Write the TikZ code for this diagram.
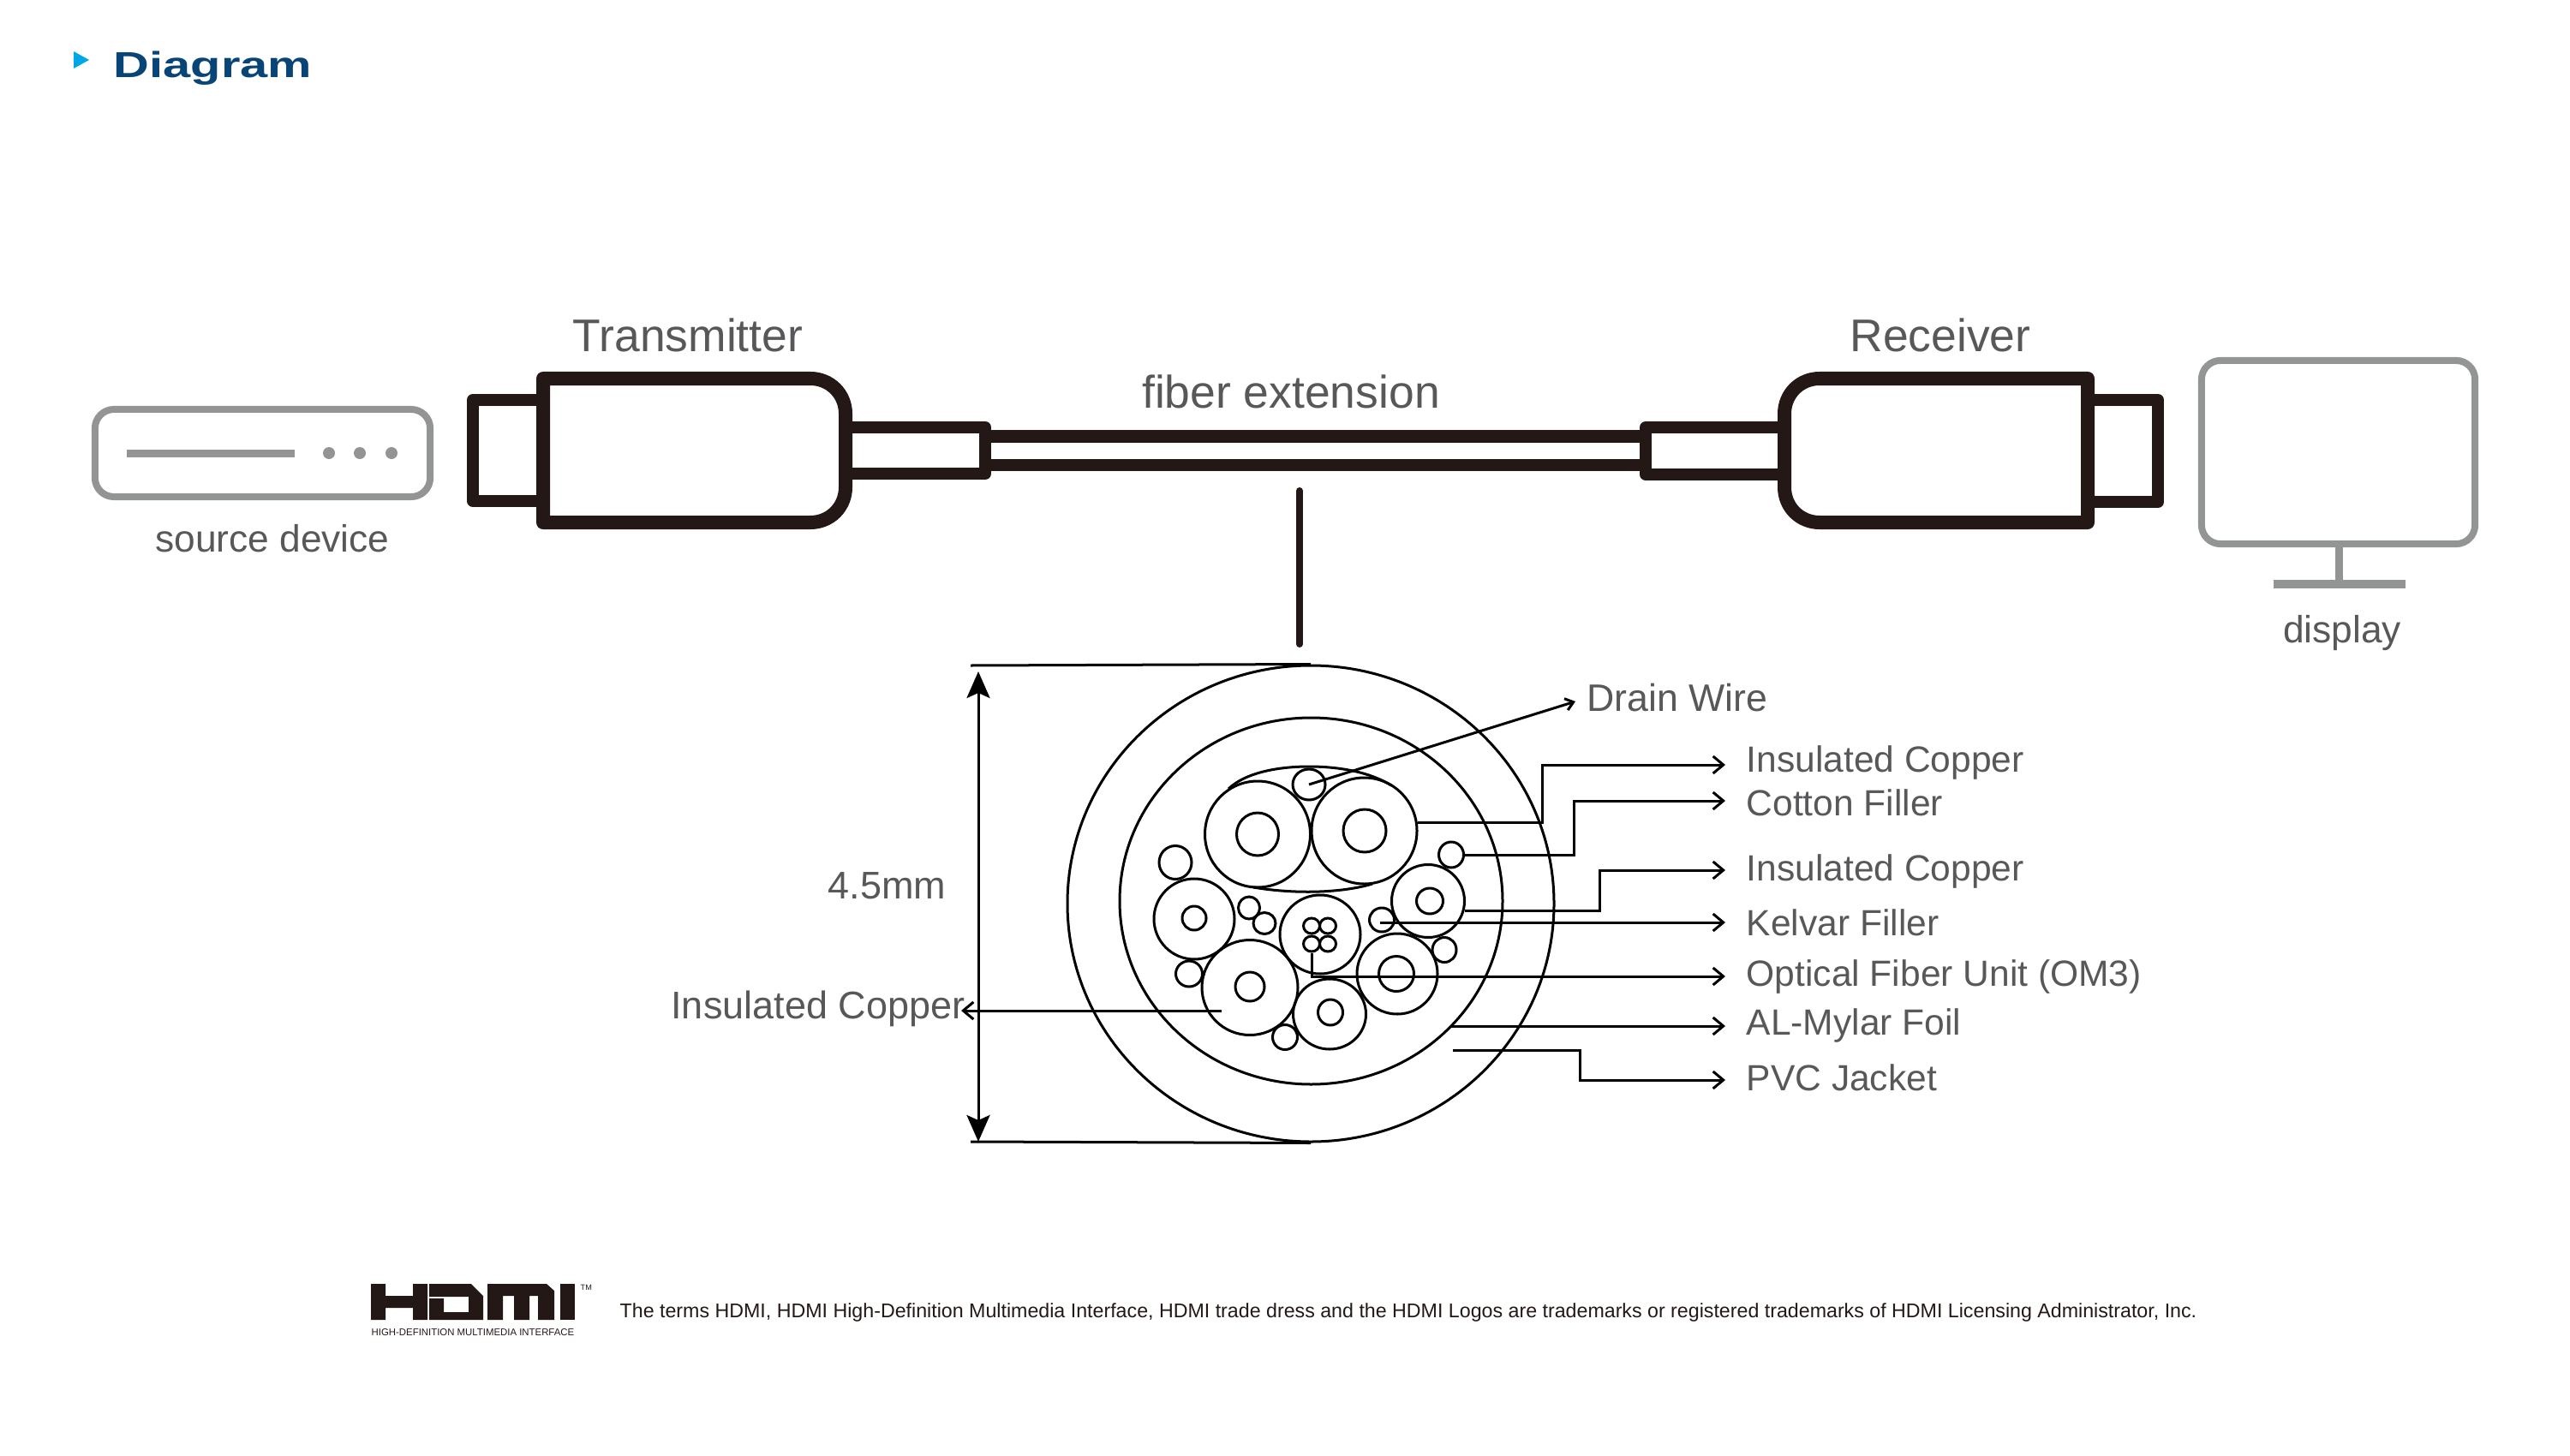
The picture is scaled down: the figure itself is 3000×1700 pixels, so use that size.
\documentclass[tikz,border=0pt]{standalone}
\usepackage{fontspec}
\setmainfont{Liberation Sans}
\usetikzlibrary{arrows.meta,positioning,shapes.geometric}
\definecolor{plugblack}{RGB}{35,24,21}
\definecolor{devgray}{RGB}{147,149,148}
\definecolor{labgray}{RGB}{88,88,90}
\definecolor{titleblue}{RGB}{9,68,118}
\definecolor{markblue}{RGB}{0,167,232}
\begin{document}
\begin{tikzpicture}[x=0.01cm,y=-0.01cm,
  heavy/.style={draw=plugblack,line width=0.16cm,line join=round},
  thinplug/.style={draw=plugblack,line width=0.14cm,line join=round},
  device/.style={draw=devgray,line width=0.08cm,rounded corners=0.22cm},
  ring/.style 2 args={draw,ellipse,line width=0.03cm,inner sep=0pt,minimum width=#1*0.01cm,minimum height=#2*0.01cm},
  leader/.style={line width=0.03cm,-{Straight Barb[length=0.12cm,width=0.2cm]}},
  wire/.style={line width=0.03cm},
  bigtext/.style={font=\fontsize{15.2}{18}\selectfont,text=labgray,inner sep=0pt,anchor=base},
  midtext/.style={font=\fontsize{12.6}{15}\selectfont,text=labgray,inner sep=0pt},
  callout/.style={font=\fontsize{12.1}{14}\selectfont,text=labgray,inner ysep=0pt,inner xsep=0.24cm,anchor=base west}]
\useasboundingbox (0,0) rectangle (3000,1700);

\fill[markblue] (86,60) -- (104,70) -- (86,80) -- cycle;
\node[font=\fontsize{12}{14}\selectfont\bfseries,text=titleblue,inner sep=0pt,anchor=base west,xscale=1.37,transform shape] (title) at (132,91) {Diagram};

\node[device,minimum width=3.91cm,minimum height=1.02cm] (src) at (306.5,529) {};
\fill[devgray] (148,525) rectangle (344,534);
\foreach \dotx in {384,420,457} \fill[devgray] (\dotx,529) circle (7);
\node[midtext,anchor=base] (srclab) at (318,644) {source device};

\draw[heavy] (634,442) -- (946,442) .. controls (969,442) and (987,460) .. (987,483) -- (987,569) .. controls (987,592) and (969,610) .. (946,610) -- (634,610) -- cycle;
\draw[thinplug] (634,467) -- (552,467) -- (552,585) -- (634,585);
\draw[thinplug] (987,499) -- (1150,499) -- (1150,553) -- (987,553);
\draw[thinplug] (1150,509.5) -- (1921,509.5);
\draw[thinplug] (1150,543) -- (1921,543);
\draw[heavy] (2437,442) -- (2124,442) .. controls (2101,442) and (2083,460) .. (2083,483) -- (2083,569) .. controls (2083,592) and (2101,610) .. (2124,610) -- (2437,610) -- cycle;
\draw[thinplug] (2437,467) -- (2519,467) -- (2519,586) -- (2437,586);
\draw[thinplug] (2083,499) -- (1921,499) -- (1921,554) -- (2083,554);
\node[bigtext] (txlab) at (803,410) {Transmitter};
\node[bigtext] (rxlab) at (2265,410) {Receiver};
\node[bigtext] (fiblab) at (1507,476) {fiber extension};

\node[device,minimum width=3.19cm,minimum height=2.14cm] (disp) at (2729.5,528) {};
\fill[devgray] (2726,639) rectangle (2735,677);
\fill[devgray] (2654,677) rectangle (2808,687);
\node[midtext,anchor=base] (displab) at (2734,750) {display};

\coordinate (linka) at (1517,573);
\coordinate (linkb) at (1517,752);
\draw[draw=plugblack,line width=0.08cm,line cap=round] (linka) -- (linkb);

\node[ring={568}{556}] (jacket) at (1530,1055) {};
\node[ring={447}{428}] (foil) at (1530.5,1052) {};
\node[ring={123}{124}] (bigl) at (1468,974) {};
\node[ring={49}{50}] (bigli) at (1468,974) {};
\node[ring={123}{124}] (bigr) at (1592.5,970) {};
\node[ring={50}{50}] (bigri) at (1593,970) {};
\node[ring={38}{36}] (drain) at (1528,916) {};
\draw[wire] (1434,921) .. controls (1455,901) and (1495,895) .. (1528,895) .. controls (1565,895) and (1600,902) .. (1624,917);
\draw[wire] (1463,1036) .. controls (1510,1044) and (1565,1043) .. (1602,1032);
\node[ring={38}{39}] (fila) at (1372,1007) {};
\node[ring={94}{94}] (copa) at (1394,1073) {};
\node[ring={28}{28}] (copai) at (1394,1072) {};
\node[ring={25}{26}] (filb) at (1458,1060) {};
\node[ring={26}{25}] (filc) at (1476,1078) {};
\node[ring={94}{92}] (fibunit) at (1541,1091) {};
\node[ring={19}{18}] (fiba) at (1531,1081) {};
\node[ring={19}{18}] (fibb) at (1550,1081) {};
\node[ring={19}{18}] (fibc) at (1531,1102) {};
\node[ring={19}{18}] (fibd) at (1550,1102) {};
\node[ring={29}{28}] (kevlar) at (1613,1074) {};
\node[ring={85}{85}] (copb) at (1667,1052) {};
\node[ring={31}{30}] (copbi) at (1669,1052) {};
\node[ring={29}{30}] (cotton) at (1694,998) {};
\node[ring={28}{29}] (fild) at (1686,1109) {};
\node[ring={94}{94}] (copc) at (1631,1137) {};
\node[ring={41}{41}] (copci) at (1630,1137) {};
\node[ring={85}{82}] (copd) at (1552,1184) {};
\node[ring={29}{30}] (copdi) at (1553,1182) {};
\node[ring={29}{29}] (file) at (1500,1211) {};
\node[ring={112}{111}] (cope) at (1459,1153) {};
\node[ring={34}{34}] (copei) at (1459,1152) {};
\node[ring={31}{30}] (filf) at (1388,1137) {};

\node[callout,font=\fontsize{12.7}{15}\selectfont,inner xsep=0.13cm] (ldrain) at (1839,830) {Drain Wire};
\node[callout] (lcopa) at (2014,901) {Insulated Copper};
\node[callout] (lcot) at (2014,952) {Cotton Filler};
\node[callout] (lcopb) at (2014,1028) {Insulated Copper};
\node[callout] (lkev) at (2014,1092) {Kelvar Filler};
\node[callout] (lopt) at (2014,1151) {Optical Fiber Unit (OM3)};
\node[callout] (lfoil) at (2014,1208) {AL-Mylar Foil};
\node[callout] (ljac) at (2014,1273) {PVC Jacket};
\node[midtext,font=\fontsize{12.8}{15}\selectfont,anchor=base east] (lcopl) at (1127,1189) {Insulated Copper};
\node[midtext,font=\fontsize{12.8}{15}\selectfont,anchor=base east] (ldim) at (1105,1049) {4.5mm};

\coordinate (skev) at (1611,1077);
\coordinate (sfoil) at (1693,1198);
\coordinate (sjac) at (1696,1226);
\coordinate (scopl) at (1426,1180);
\coordinate (tcopl) at (1122,1180);
\draw[line width=0.03cm,-{Straight Barb[length=0.09cm,width=0.14cm]}] (drain.center) -- (ldrain.west |- 0,819);
\draw[leader] (bigr.9) -| (1800,893) -- (lcopa.west |- 0,893);
\draw[leader] (cotton.east) -| (1837,935) -- (lcot.west |- 0,935);
\draw[leader] (copb.345) -| (1867,1016) -- (lcopb.west |- 0,1016);
\draw[leader] (skev) -- (lkev.west |- skev);
\draw[leader] (fibc.south) |- (lopt.west |- 0,1140);
\draw[leader] (sfoil) -- (lfoil.west |- sfoil);
\draw[leader] (sjac) -| (1844,1261) -- (ljac.west |- 0,1261);
\draw[leader] (scopl) -- (tcopl);

\coordinate (dimt) at (1133,777);
\coordinate (dimb) at (1133,1333);
\coordinate (dima) at (1142,784);
\coordinate (dimc) at (1142,1333);
\draw[wire] (dimt) -- (jacket.north);
\draw[wire] (dimb) -- (jacket.south);
\draw[wire,{Stealth[length=0.31cm,width=0.27cm,inset=0.06cm]}-{Stealth[length=0.31cm,width=0.27cm,inset=0.06cm]}] (dima) -- (dimc);

\fill[plugblack] (433,1499) rectangle (450,1541) (482,1499) rectangle (499,1541) (450,1513) rectangle (482,1527);
\fill[plugblack,even odd rule] (501,1499) -- (550,1499) -- (564,1513) -- (564,1541) -- (501,1541) -- cycle
  (501,1514) -- (547,1514) -- (547,1532) -- (518,1532) -- (518,1516) -- (501,1516) -- cycle;
\fill[plugblack] (569,1499) -- (638,1499) -- (647,1507) -- (647,1541) -- (628,1541) -- (628,1513) -- (618,1513) -- (618,1541) -- (600,1541) -- (600,1513) -- (587,1513) -- (587,1541) -- (569,1541) -- cycle;
\fill[plugblack] (654,1499) rectangle (671,1541);
\node[font=\fontsize{2.6}{3}\selectfont,text=plugblack,inner sep=0pt,anchor=base west] (tmark) at (677,1506) {TM};
\node[font=\fontsize{3.24}{4}\selectfont,text=plugblack,inner sep=0pt,anchor=base west] (hdmisub) at (433,1559) {HIGH-DEFINITION MULTIMEDIA INTERFACE};
\node[font=\fontsize{6.6}{9}\selectfont,text=plugblack,inner sep=0pt,anchor=base west] (terms) at (723,1538) {The terms HDMI, HDMI High-Definition Multimedia Interface, HDMI trade dress and the HDMI Logos are trademarks or registered trademarks of HDMI Licensing Administrator, Inc.};
\end{tikzpicture}
\end{document}
